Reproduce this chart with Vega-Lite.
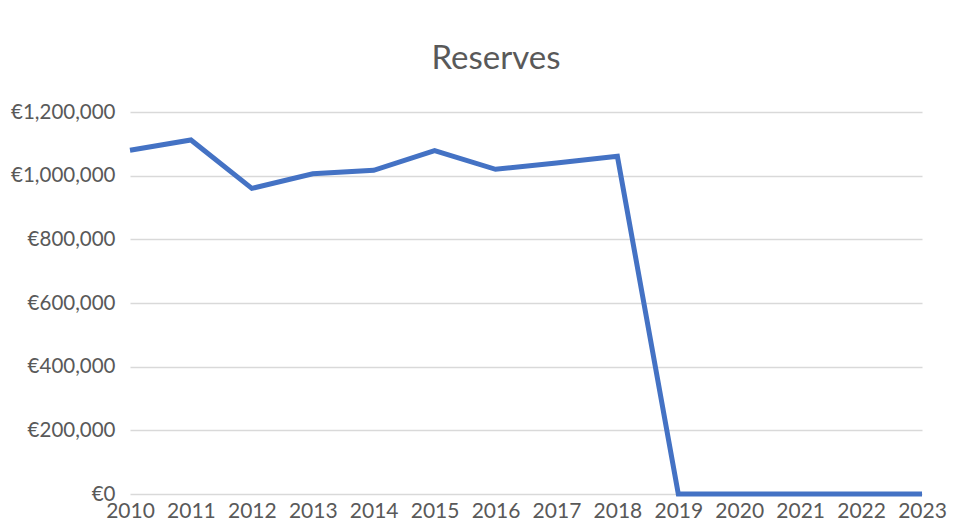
{
  "$schema": "https://vega.github.io/schema/vega-lite/v6.json",
  "width": 792,
  "height": 382,
  "autosize": "none",
  "padding": {"left": 130, "top": 112, "right": 52, "bottom": 36},
  "background": "white",
  "config": {
    "view": {"stroke": null},
    "font": "Lato"
  },
  "title": {
    "text": "Reserves",
    "font": "Lato",
    "fontSize": 33,
    "fontWeight": "normal",
    "color": "#595959",
    "anchor": "middle",
    "baseline": "alphabetic",
    "offset": 45,
    "dx": -30,
    "dy": 45
  },
  "data": {
    "values": [
      {"year": "2010", "reserves": 1080000},
      {"year": "2011", "reserves": 1112000},
      {"year": "2012", "reserves": 960000},
      {"year": "2013", "reserves": 1006000},
      {"year": "2014", "reserves": 1017000},
      {"year": "2015", "reserves": 1079000},
      {"year": "2016", "reserves": 1020000},
      {"year": "2017", "reserves": 1040000},
      {"year": "2018", "reserves": 1061000},
      {"year": "2019", "reserves": 0},
      {"year": "2020", "reserves": 0},
      {"year": "2021", "reserves": 0},
      {"year": "2022", "reserves": 0},
      {"year": "2023", "reserves": 0}
    ]
  },
  "mark": {"type": "line", "color": "#4472C4", "strokeWidth": 5},
  "encoding": {
    "x": {
      "field": "year",
      "type": "ordinal",
      "scale": {"type": "point", "padding": 0},
      "axis": {
        "title": null,
        "labelAngle": 0,
        "labelFont": "Lato",
        "labelFontSize": 21,
        "labelColor": "#595959",
        "labelPadding": 6,
        "domain": false,
        "ticks": false,
        "grid": false
      }
    },
    "y": {
      "field": "reserves",
      "type": "quantitative",
      "scale": {"domain": [0, 1200000], "nice": false},
      "axis": {
        "title": null,
        "values": [0, 200000, 400000, 600000, 800000, 1000000, 1200000],
        "labelExpr": "'€' + format(datum.value, ',')",
        "labelFont": "Lato",
        "labelFontSize": 20.5,
        "labelColor": "#595959",
        "labelPadding": 15,
        "domain": false,
        "ticks": false,
        "grid": true,
        "gridColor": "#d9d9d9",
        "gridWidth": 1.3
      }
    }
  }
}
